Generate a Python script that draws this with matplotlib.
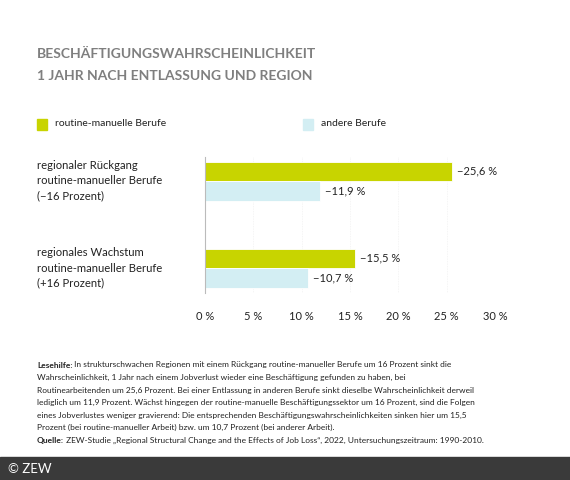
import matplotlib
matplotlib.use("Agg")
import matplotlib.pyplot as plt

categories = ["regionaler Rückgang\nroutine-manueller Berufe\n(−16 Prozent)",
              "regionales Wachstum\nroutine-manueller Berufe\n(+16 Prozent)"]
series_names = ["routine-manuelle Berufe", "andere Berufe"]
routine = [25.6, 15.5]
andere = [11.9, 10.7]
xticks = [0, 5, 10, 15, 20, 25, 30]

GREEN = "#C8D400"
LIGHT = "#D3EEF3"
GREY = "#7f7f7f"

plt.rcParams['font.family'] = ['Lato', 'DejaVu Sans']

W, H = 570, 480
fig = plt.figure(figsize=(W/100, H/100), dpi=100)

def fx(x): return x / W
def fy(y): return 1 - y / H

ax = fig.add_axes([fx(205), fy(293), (495-205)/W, (293-157)/H])
bh = 0.224
for i, (r, a) in enumerate(zip(routine, andere)):
    ax.barh(i - bh/2, r, height=bh, color=GREEN, edgecolor="white", linewidth=0.6)
    ax.barh(i + bh/2, a, height=bh, color=LIGHT, edgecolor="white", linewidth=0.6)
    ax.text(r + 0.5, i - bh/2, f"−{str(r).replace('.', ',')} %", va="center", ha="left", fontsize=8, color="#222222")
    ax.text(a + 0.5, i + bh/2, f"−{str(a).replace('.', ',')} %", va="center", ha="left", fontsize=8, color="#222222")

ax.set_xlim(0, 30)
ax.set_ylim(1.287, -0.276)
ax.set_xticks(xticks)
ax.set_xticklabels([f"{t} %" for t in xticks], fontsize=8, color="#222222")
ax.tick_params(axis="x", length=0, pad=13)
ax.set_yticks([])
for s in ["top", "right", "bottom"]:
    ax.spines[s].set_visible(False)
ax.spines["left"].set_color("#bbbbbb")
ax.spines["left"].set_linewidth(0.8)
ax.grid(axis="x", color="#f1f1f1", linewidth=0.6, linestyle=(0, (1, 1)))
ax.set_axisbelow(True)

for i, c in enumerate(categories):
    fig.text(fx(37), fy(181 + i*87), c, ha="left", va="center", fontsize=8.1, color="#222222", linespacing=1.45)

# title
fig.text(fx(37), fy(58), "BESCHÄFTIGUNGSWAHRSCHEINLICHKEIT", fontsize=10, fontweight="bold", color=GREY, va="baseline", ha="left")
fig.text(fx(37), fy(79.5), "1 JAHR NACH ENTLASSUNG UND REGION", fontsize=10, fontweight="bold", color=GREY, va="baseline", ha="left")

# legend
for x0, name, col in [(37, series_names[0], GREEN), (303, series_names[1], LIGHT)]:
    fig.patches.append(plt.Rectangle((fx(x0), fy(130)), 10/W, 11/H, transform=fig.transFigure, color=col))
    fig.text(fx(x0 + 18), fy(124), name, fontsize=7.5, va="center", ha="left", color="#222222")

# footnote
lines = [
    ("Lesehilfe:", " In strukturschwachen Regionen mit einem Rückgang routine-manueller Berufe um 16 Prozent sinkt die"),
    ("", "Wahrscheinlichkeit, 1 Jahr nach einem Jobverlust wieder eine Beschäftigung gefunden zu haben, bei"),
    ("", "Routinearbeitenden um 25,6 Prozent. Bei einer Entlassung in anderen Berufe sinkt dieselbe Wahrscheinlichkeit derweil"),
    ("", "lediglich um 11,9 Prozent. Wächst hingegen der routine-manuelle Beschäftigungssektor um 16 Prozent, sind die Folgen"),
    ("", "eines Jobverlustes weniger gravierend: Die entsprechenden Beschäftigungswahrscheinlichkeiten sinken hier um 15,5"),
    ("", "Prozent (bei routine-manueller Arbeit) bzw. um 10,7 Prozent (bei anderer Arbeit)."),
    ("Quelle:", " ZEW-Studie „Regional Structural Change and the Effects of Job Loss“, 2022, Untersuchungszeitraum: 1990-2010."),
]
renderer = fig.canvas.get_renderer()
for k, (b, t) in enumerate(lines):
    y = fy(365 + k*12.5)
    x = fx(37)
    if b:
        tb = fig.text(x, y, b, fontsize=6.05, fontweight="bold", va="center", ha="left", color="#222222")
        bb = tb.get_window_extent(renderer)
        x = bb.x1 / W
    fig.text(x, y, t, fontsize=6.05, va="center", ha="left", color="#222222")

# footer bar
fig.patches.append(plt.Rectangle((0, 0), 1, 23/H, transform=fig.transFigure, color="#3a3a3a"))
fig.text(fx(8), fy(469), "© ZEW", fontsize=9.5, color="white", va="center", ha="left")

fig.savefig("out.png", dpi=100)
